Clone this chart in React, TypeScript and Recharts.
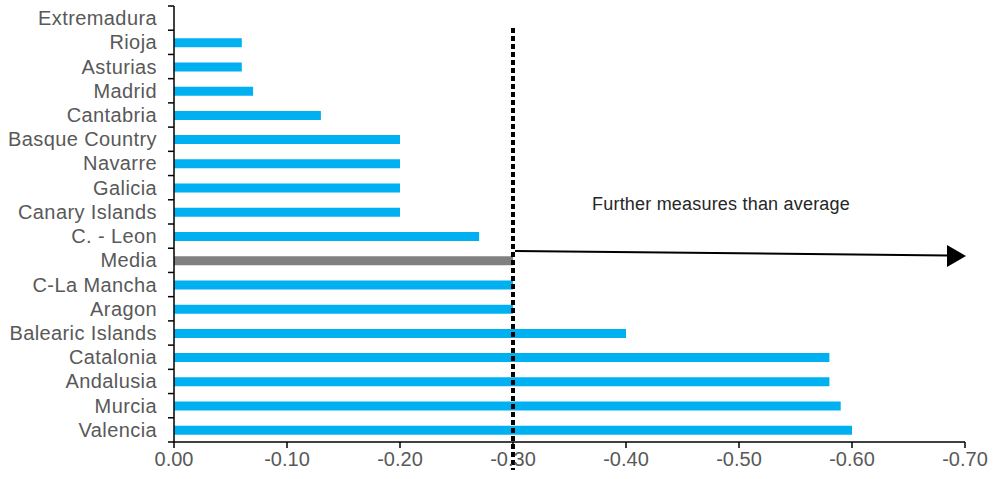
import React from 'react';
import { BarChart, Bar, XAxis, YAxis, Cell, ReferenceLine } from 'recharts';

const REGIONS = [
  'Extremadura', 'Rioja', 'Asturias', 'Madrid', 'Cantabria', 'Basque Country', 'Navarre',
  'Galicia', 'Canary Islands', 'C. - Leon', 'Media', 'C-La Mancha', 'Aragon',
  'Balearic Islands', 'Catalonia', 'Andalusia', 'Murcia', 'Valencia',
];
const VALUES = [
  0, -0.06, -0.06, -0.07, -0.13, -0.2, -0.2,
  -0.2, -0.2, -0.27, -0.3, -0.3, -0.3,
  -0.4, -0.58, -0.58, -0.59, -0.6,
];
const X_TICKS = [0, -0.1, -0.2, -0.3, -0.4, -0.5, -0.6, -0.7];
const AVERAGE = -0.3;
const AVERAGE_NAME = 'Media';
const NOTE = 'Further measures than average';

const data = REGIONS.map((name, i) => ({ name, value: VALUES[i] }));

const FONT = '"Liberation Sans", Arial, sans-serif';
const TEXT_GREY = '#595959';
const BLUE = '#00B0F0';
const GREY = '#808080';

const W = 993;
const H = 479;
const MARGIN = { top: 6, right: 28, bottom: 0, left: 0 };
const Y_WIDTH = 174;
const X_HEIGHT = 37;
const BAND = (H - MARGIN.top - MARGIN.bottom - X_HEIGHT) / REGIONS.length;

// category labels with Excel-style tick marks between categories
const YTick = (props: any) => {
  const { x, y, payload, index } = props;
  const axisX = x + 17;
  return (
    <g>
      <line x1={axisX - 6} x2={axisX} y1={y - BAND / 2} y2={y - BAND / 2} stroke="#000" strokeWidth={1.5} />
      {index === REGIONS.length - 1 && (
        <line x1={axisX - 6} x2={axisX} y1={y + BAND / 2} y2={y + BAND / 2} stroke="#000" strokeWidth={1.5} />
      )}
      <text x={x} y={y} dy={7} textAnchor="end" fill={TEXT_GREY} fontSize={20} letterSpacing={0.4} fontFamily={FONT}>
        {payload.value}
      </text>
    </g>
  );
};

const AverageMarker = (props: any) => {
  const { x1, y1, y2 } = props;
  const top = Math.min(y1, y2);
  const bottom = Math.max(y1, y2);
  const arrowY0 = 251;
  const tipX = 966;
  const tipY = 256;
  return (
    <g>
      <line x1={x1} x2={x1} y1={top + 22} y2={bottom + 28} stroke="#000" strokeWidth={4} strokeDasharray="5 3" />
      <line x1={x1 + 2} y1={arrowY0} x2={tipX - 18} y2={tipY - 0.5} stroke="#000" strokeWidth={2} />
      <polygon points={`${tipX},${tipY} ${tipX - 19},${tipY - 11} ${tipX - 19},${tipY + 11}`} fill="#000" />
      <text x={721} y={210} textAnchor="middle" fill="#262626" fontSize={18} letterSpacing={0.2} fontFamily={FONT}>
        {NOTE}
      </text>
    </g>
  );
};

export default function App() {
  return (
    <div style={{ position: 'absolute', left: 0, top: 0, width: W, height: H, background: '#fff' }}>
      <BarChart width={W} height={H} data={data} layout="vertical" margin={MARGIN} barSize={9}>
        <XAxis
          type="number"
          domain={[-0.7, 0]}
          reversed
          ticks={X_TICKS}
          interval={0}
          tickFormatter={(v: number) => v.toFixed(2)}
          height={X_HEIGHT}
          axisLine={{ stroke: '#000', strokeWidth: 1.5 }}
          tickLine={{ stroke: '#000', strokeWidth: 1.5 }}
          tickSize={6}
          tickMargin={4}
          tick={{ fill: TEXT_GREY, fontSize: 20, fontFamily: FONT }}
        />
        <YAxis
          type="category"
          dataKey="name"
          width={Y_WIDTH}
          axisLine={{ stroke: '#000', strokeWidth: 1.5 }}
          tickLine={false}
          tickSize={0}
          tickMargin={17}
          interval={0}
          tick={<YTick />}
        />
        <Bar dataKey="value" isAnimationActive={false}>
          {data.map((d) => (
            <Cell key={d.name} fill={d.name === AVERAGE_NAME ? GREY : BLUE} />
          ))}
        </Bar>
        <ReferenceLine x={AVERAGE} ifOverflow="visible" shape={<AverageMarker />} />
      </BarChart>
    </div>
  );
}
